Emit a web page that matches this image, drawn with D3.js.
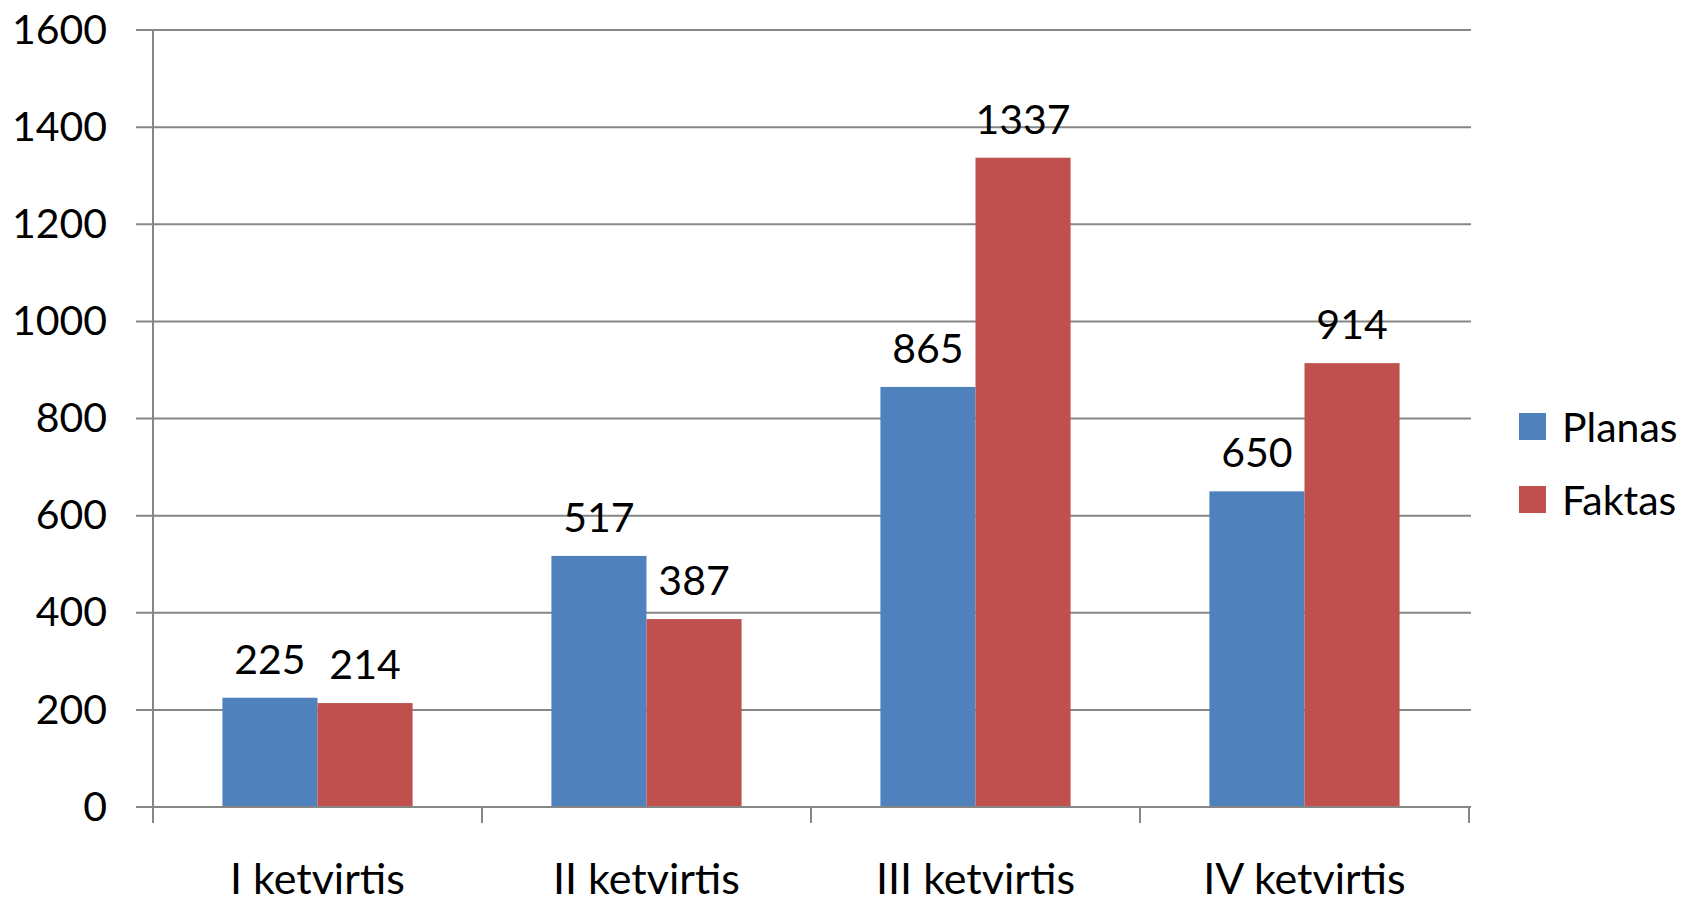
<!DOCTYPE html>
<html>
<head>
<meta charset="utf-8">
<script src="https://cdn.jsdelivr.net/npm/d3@7"></script>
<style>
  html, body { margin: 0; padding: 0; background: #fff; overflow: hidden; }
  text { font-family: Lato, "Open Sans", sans-serif; fill: #000; }
</style>
</head>
<body>
<svg id="chart" width="1691" height="903"></svg>
<script>
const categories = ["I ketvirtis", "II ketvirtis", "III ketvirtis", "IV ketvirtis"];
const seriesNames = ["Planas", "Faktas"];
const planas = [225, 517, 865, 650];
const faktas = [214, 387, 1337, 914];
const yTicks = [0, 200, 400, 600, 800, 1000, 1200, 1400, 1600];
const colors = ["#4F81BD", "#C0504D"];

const seriesValues = [planas, faktas];
const rows = categories.map((c, i) => ({
  cat: c,
  vals: seriesNames.map((s, j) => ({ s, v: seriesValues[j][i], color: colors[j] }))
}));

const svg = d3.select("#chart");
const plotLeft = 153, plotRight = 1469, plotTop = 30, plotBottom = 807;
const gridColor = "#868686";
const fontSize = 41;

const y = d3.scaleLinear().domain([0, 1600]).range([plotBottom, plotTop]);
const x = d3.scaleBand().domain(categories).range([plotLeft, plotRight]).padding(0);
const x1 = d3.scaleBand().domain(seriesNames).range([0, x.bandwidth()]).paddingInner(0).paddingOuter(0.73);

// gridlines
svg.append("g").selectAll("line").data(yTicks).join("line")
  .attr("x1", plotLeft - 17).attr("x2", plotRight + 2)
  .attr("y1", d => y(d)).attr("y2", d => y(d))
  .attr("stroke", gridColor).attr("stroke-width", 2);

// y axis labels
const yAxis = d3.axisLeft(y).tickValues(yTicks).tickFormat(d3.format("d")).tickSize(0).tickPadding(46);
const gy = svg.append("g").attr("transform", `translate(${plotLeft},0)`).call(yAxis);
gy.select(".domain").remove();
gy.selectAll("text").attr("font-size", fontSize).attr("font-family", "Lato").attr("fill", "#000");

// bars
const groups = svg.append("g").selectAll("g").data(rows).join("g")
  .attr("transform", d => `translate(${x(d.cat)},0)`);
groups.selectAll("rect").data(d => d.vals).join("rect")
  .attr("x", d => x1(d.s)).attr("width", x1.bandwidth())
  .attr("y", d => y(d.v)).attr("height", d => y(0) - y(d.v))
  .attr("fill", d => d.color);

// axis lines (vertical y axis + baseline)
svg.append("line").attr("x1", plotLeft).attr("x2", plotLeft).attr("y1", plotTop).attr("y2", plotBottom + 16)
  .attr("stroke", gridColor).attr("stroke-width", 2);
svg.append("line").attr("x1", plotLeft - 17).attr("x2", plotRight + 2).attr("y1", plotBottom).attr("y2", plotBottom)
  .attr("stroke", gridColor).attr("stroke-width", 2);

// category boundary ticks
const boundaries = categories.map(c => x(c)).concat([x(categories[categories.length - 1]) + x.bandwidth()]);
svg.append("g").selectAll("line").data(boundaries.slice(1)).join("line")
  .attr("x1", d => d).attr("x2", d => d).attr("y1", plotBottom).attr("y2", plotBottom + 16)
  .attr("stroke", gridColor).attr("stroke-width", 2);

// category labels
const xAxis = d3.axisBottom(x).tickSize(0).tickPadding(0);
const gx = svg.append("g").attr("transform", `translate(0,${plotBottom})`).call(xAxis);
gx.select(".domain").remove();
gx.selectAll("text").attr("font-size", 43).attr("font-family", "Lato")
  .attr("fill", "#000").attr("dy", null).attr("y", 87);

// data labels
groups.selectAll("text.val").data(d => d.vals).join("text")
  .attr("class", "val")
  .attr("x", d => x1(d.s) + x1.bandwidth() / 2)
  .attr("y", d => y(d.v) - 24)
  .attr("text-anchor", "middle")
  .attr("font-size", fontSize)
  .text(d => d.v);

// legend
const legend = svg.append("g").selectAll("g").data(seriesNames).join("g")
  .attr("transform", (d, i) => `translate(1519,${413 + i * 73})`);
legend.append("rect").attr("width", 27).attr("height", 27).attr("fill", (d, i) => colors[i]);
legend.append("text").attr("x", 43).attr("y", 29).attr("font-size", fontSize).text(d => d);
</script>
</body>
</html>
